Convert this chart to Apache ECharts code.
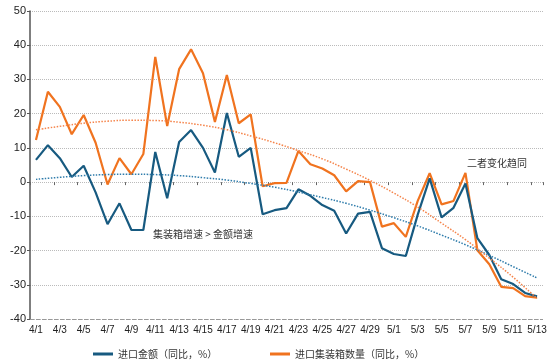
<!DOCTYPE html>
<html><head><meta charset="utf-8">
<script src="https://cdn.jsdelivr.net/npm/echarts@6/dist/echarts.min.js"></script>
<style>html,body{margin:0;padding:0;background:#fff}#c{width:553px;height:361px}</style>
</head><body><div id="c"></div>
<script>
const categories = ['4/1','4/2','4/3','4/4','4/5','4/6','4/7','4/8','4/9','4/10','4/11','4/12','4/13','4/14','4/15','4/16','4/17','4/18','4/19','4/20','4/21','4/22','4/23','4/24','4/25','4/26','4/27','4/28','4/29','4/30','5/1','5/2','5/3','5/4','5/5','5/6','5/7','5/8','5/9','5/10','5/11','5/12','5/13'];
const importValue = [6.5,10.8,7,1.5,4.8,-3,-12.3,-6.2,-14,-14,8.8,-4.7,11.7,15.2,10,2.8,20.2,7.4,10,-9.4,-8.2,-7.6,-2.1,-4,-6.7,-8.4,-15,-9.2,-8.7,-19.3,-21,-21.6,-9.5,1.1,-10.3,-7.5,-0.4,-16.4,-21.3,-28.4,-29.8,-32.4,-33.4];
const containerCount = [12.3,26.4,22,14,19.6,11.5,-0.7,7,2.3,8.2,36.6,16.4,33,38.8,31.8,17.6,31.3,17.2,19.8,-1.2,-0.3,-0.2,9.1,5.2,4,2,-2.7,0.3,0,-13,-12,-16,-5.5,2.6,-6.5,-5.5,2.7,-19.9,-24,-30.6,-31,-33.3,-33.8];
// trend lines at every labelled date (null in between)
const importTrend = [0.8,null,1.4,null,1.9,null,2.2,null,2.3,null,2.2,null,1.9,null,1.3,null,0.6,null,-0.4,null,-1.5,null,-2.9,null,-4.5,null,-6.2,null,-8.2,null,-10.4,null,-12.8,null,-15.5,null,-18.3,null,-21.4,null,-24.7,null,-28];
const containerTrend = [15.3,null,16.3,null,17.2,null,17.8,null,18.1,null,18.0,null,17.5,null,16.6,null,15.3,null,13.5,null,11.5,null,9.2,null,6.8,null,3.8,null,0.5,null,-3.2,null,-7.3,null,-12,null,-16.8,null,-22.2,null,-27.8,null,-34];
const seriesNames = ['进口金额（同比，%）','进口集装箱数量（同比，%）'];
const annotations = ['集装箱增速 > 金额增速','二者变化趋同'];

const font = '"Liberation Sans", Arial, "Noto Sans CJK SC", sans-serif';
const cjk = '"Noto Sans CJK SC", sans-serif';
const blue = '#175a80', orange = '#f0731f';
const chart = echarts.init(document.getElementById('c'));
chart.setOption({
  animation: false,
  backgroundColor: '#fff',
  grid: {left: 30, right: 10, top: 11, bottom: 42, containLabel: false},
  legend: [
    {data: [seriesNames[0]], left: 88, top: 344, icon: 'rect', itemWidth: 20, itemHeight: 3,
     textStyle: {fontSize: 10, color: '#333', fontFamily: cjk}},
    {data: [seriesNames[1]], left: 265, top: 344, icon: 'rect', itemWidth: 20, itemHeight: 3,
     textStyle: {fontSize: 10, color: '#333', fontFamily: cjk}}
  ],
  xAxis: {
    type: 'category', data: categories, boundaryGap: true,
    axisLine: {show: false},
    axisTick: {show: true, interval: 1, length: 3, lineStyle: {color: '#666'}},
    axisLabel: {interval: 1, fontSize: 10, color: '#222', fontFamily: font, margin: 6}
  },
  yAxis: {
    type: 'value', min: -40, max: 50, interval: 10,
    axisLine: {show: true, lineStyle: {color: '#555', width: 1.5}},
    axisTick: {show: true, length: 3, lineStyle: {color: '#555'}},
    axisLabel: {fontSize: 11, color: '#222', fontFamily: font, margin: 4},
    splitLine: {show: true, lineStyle: {color: '#bbb', type: 'dotted', width: 1}}
  },
  graphic: [
    {type: 'text', left: 153, top: 229, style: {text: annotations[0], font: '10px ' + cjk, fill: '#333'}},
    {type: 'text', left: 467, top: 158, style: {text: annotations[1], font: '10px ' + cjk, fill: '#333'}}
  ],
  series: [
    {name: seriesNames[0], type: 'line', data: importValue, symbol: 'none', z: 3,
     lineStyle: {color: blue, width: 2.2}, itemStyle: {color: blue}},
    {name: seriesNames[1], type: 'line', data: containerCount, symbol: 'none', z: 2,
     lineStyle: {color: orange, width: 2.2}, itemStyle: {color: orange},
     markLine: {silent: true, symbol: 'none', label: {show: false},
       data: [{yAxis: -40}], lineStyle: {color: '#999', type: 'dashed', width: 1}}},
    {name: 'trend1', type: 'line', data: importTrend, symbol: 'none', smooth: true, connectNulls: true, z: 4,
     lineStyle: {color: '#2f7cab', width: 1.5, type: 'dotted'}},
    {name: 'trend2', type: 'line', data: containerTrend, symbol: 'none', smooth: true, connectNulls: true, z: 4,
     lineStyle: {color: '#f5844a', width: 1.5, type: 'dotted'}}
  ]
});
</script></body></html>
